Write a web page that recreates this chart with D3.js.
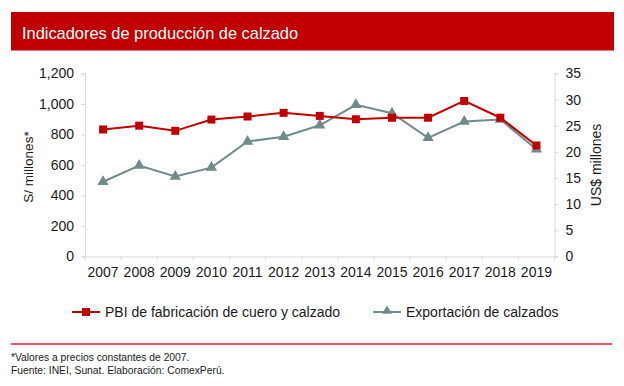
<!DOCTYPE html>
<html>
<head>
<meta charset="utf-8">
<script src="https://cdn.jsdelivr.net/npm/d3@7"></script>
<style>
  body { margin: 0; background: #fff; }
  svg { display: block; font-family: "Liberation Sans", Arial, sans-serif; }
</style>
</head>
<body>
<svg id="chart" width="624" height="386"></svg>
<script>
// data
const years = ['2007', '2008', '2009', '2010', '2011', '2012', '2013', '2014', '2015', '2016', '2017', '2018', '2019'];
const pbi = [833, 858, 824, 898, 918, 942, 922, 900, 910, 910, 1020, 910, 728];
const exportacion = [14.3, 17.4, 15.3, 17.0, 22.0, 22.9, 25.1, 29.0, 27.4, 22.7, 25.8, 26.2, 20.5];
const leftTicks = [0, 200, 400, 600, 800, 1000, 1200];
const rightTicks = [0, 5, 10, 15, 20, 25, 30, 35];

const red = '#c00000';
const gray = '#718a8b';
const axisGray = '#d9d9d9';

const svg = d3.select('#chart');

// title band
svg.append('rect')
  .attr('x', 11).attr('y', 12)
  .attr('width', 603).attr('height', 38.5)
  .attr('fill', red);
svg.append('text')
  .attr('x', 22).attr('y', 39)
  .attr('fill', '#fff')
  .attr('font-size', 16.4)
  .text('Indicadores de producción de calzado');

const x = d3.scaleBand().domain(years).range([85, 554.5]);
const yL = d3.scaleLinear().domain([0, 1200]).range([256.5, 73.5]);
const yR = d3.scaleLinear().domain([0, 35]).range([256.5, 73.5]);

// left axis
const gL = svg.append('g').attr('transform', 'translate(85,0)')
  .call(d3.axisLeft(yL).tickValues(leftTicks).tickSize(4).tickPadding(7)
    .tickFormat(d3.format(',')));
// right axis
const gR = svg.append('g').attr('transform', 'translate(554.5,0)')
  .call(d3.axisRight(yR).tickValues(rightTicks).tickSize(4).tickPadding(7));
// bottom axis with ticks between categories
const gB = svg.append('g').attr('transform', 'translate(0,256.5)')
  .call(d3.axisBottom(x).tickSize(0).tickPadding(11));
gB.selectAll('.cat-tick')
  .data(years.concat(['end']))
  .enter().append('line')
  .attr('x1', (d, i) => 85 + i * x.step())
  .attr('x2', (d, i) => 85 + i * x.step())
  .attr('y1', 0).attr('y2', 4)
  .attr('stroke', axisGray);

[gL, gR, gB].forEach(g => {
  g.selectAll('.domain').attr('stroke', axisGray);
  g.selectAll('.tick line').attr('stroke', axisGray);
  g.selectAll('text').attr('font-size', 14).attr('fill', '#1a1a1a')
    .attr('font-family', '"Liberation Sans", Arial, sans-serif');
});

// axis titles
svg.append('text')
  .attr('transform', 'translate(33,167) rotate(-90)')
  .attr('text-anchor', 'middle')
  .attr('font-size', 13.5).attr('fill', '#1a1a1a')
  .text('S/ millones*');
svg.append('text')
  .attr('transform', 'translate(601,165) rotate(-90)')
  .attr('text-anchor', 'middle')
  .attr('font-size', 14).attr('fill', '#1a1a1a')
  .text('US$ millones');

const cx = d => x(d) + x.bandwidth() / 2;

// export series (right axis)
svg.append('path')
  .datum(exportacion)
  .attr('fill', 'none').attr('stroke', gray).attr('stroke-width', 2)
  .attr('d', d3.line().x((d, i) => cx(years[i])).y(d => yR(d)));
svg.selectAll('.tri')
  .data(exportacion)
  .enter().append('path')
  .attr('d', d3.symbol(d3.symbolTriangle, 55))
  .attr('transform', (d, i) => `translate(${cx(years[i])},${yR(d)})`)
  .attr('fill', gray);

// PBI series (left axis)
svg.append('path')
  .datum(pbi)
  .attr('fill', 'none').attr('stroke', red).attr('stroke-width', 2)
  .attr('d', d3.line().x((d, i) => cx(years[i])).y(d => yL(d)));
svg.selectAll('.sq')
  .data(pbi)
  .enter().append('rect')
  .attr('x', (d, i) => cx(years[i]) - 4)
  .attr('y', d => yL(d) - 4)
  .attr('width', 8).attr('height', 8)
  .attr('fill', red);

// legend
const legend = [
  { label: 'PBI de fabricación de cuero y calzado', color: red, x: 72, mark: 'sq' },
  { label: 'Exportación de calzados', color: gray, x: 373, mark: 'tri' }
];
legend.forEach(l => {
  const g = svg.append('g').attr('transform', `translate(${l.x},312)`);
  g.append('line').attr('x1', 0).attr('x2', 28).attr('stroke', l.color).attr('stroke-width', 2);
  if (l.mark === 'sq') {
    g.append('rect').attr('x', 10).attr('y', -4).attr('width', 8).attr('height', 8).attr('fill', l.color);
  } else {
    g.append('path').attr('d', d3.symbol(d3.symbolTriangle, 40)).attr('transform', 'translate(14,-1)').attr('fill', l.color);
  }
  g.append('text').attr('x', 33).attr('y', 5)
    .attr('font-size', 14).attr('fill', '#1a1a1a')
    .text(l.label);
});

// separator and footnotes
svg.append('line')
  .attr('x1', 11).attr('x2', 612)
  .attr('y1', 344).attr('y2', 344)
  .attr('stroke', '#e02040').attr('stroke-width', 1.5);
svg.append('text')
  .attr('x', 11).attr('y', 361)
  .attr('font-size', 10.3).attr('fill', '#1a1a1a')
  .text('*Valores a precios constantes de 2007.');
svg.append('text')
  .attr('x', 11).attr('y', 374)
  .attr('font-size', 10.3).attr('fill', '#1a1a1a')
  .text('Fuente: INEI, Sunat. Elaboración: ComexPerú.');
</script>
</body>
</html>
